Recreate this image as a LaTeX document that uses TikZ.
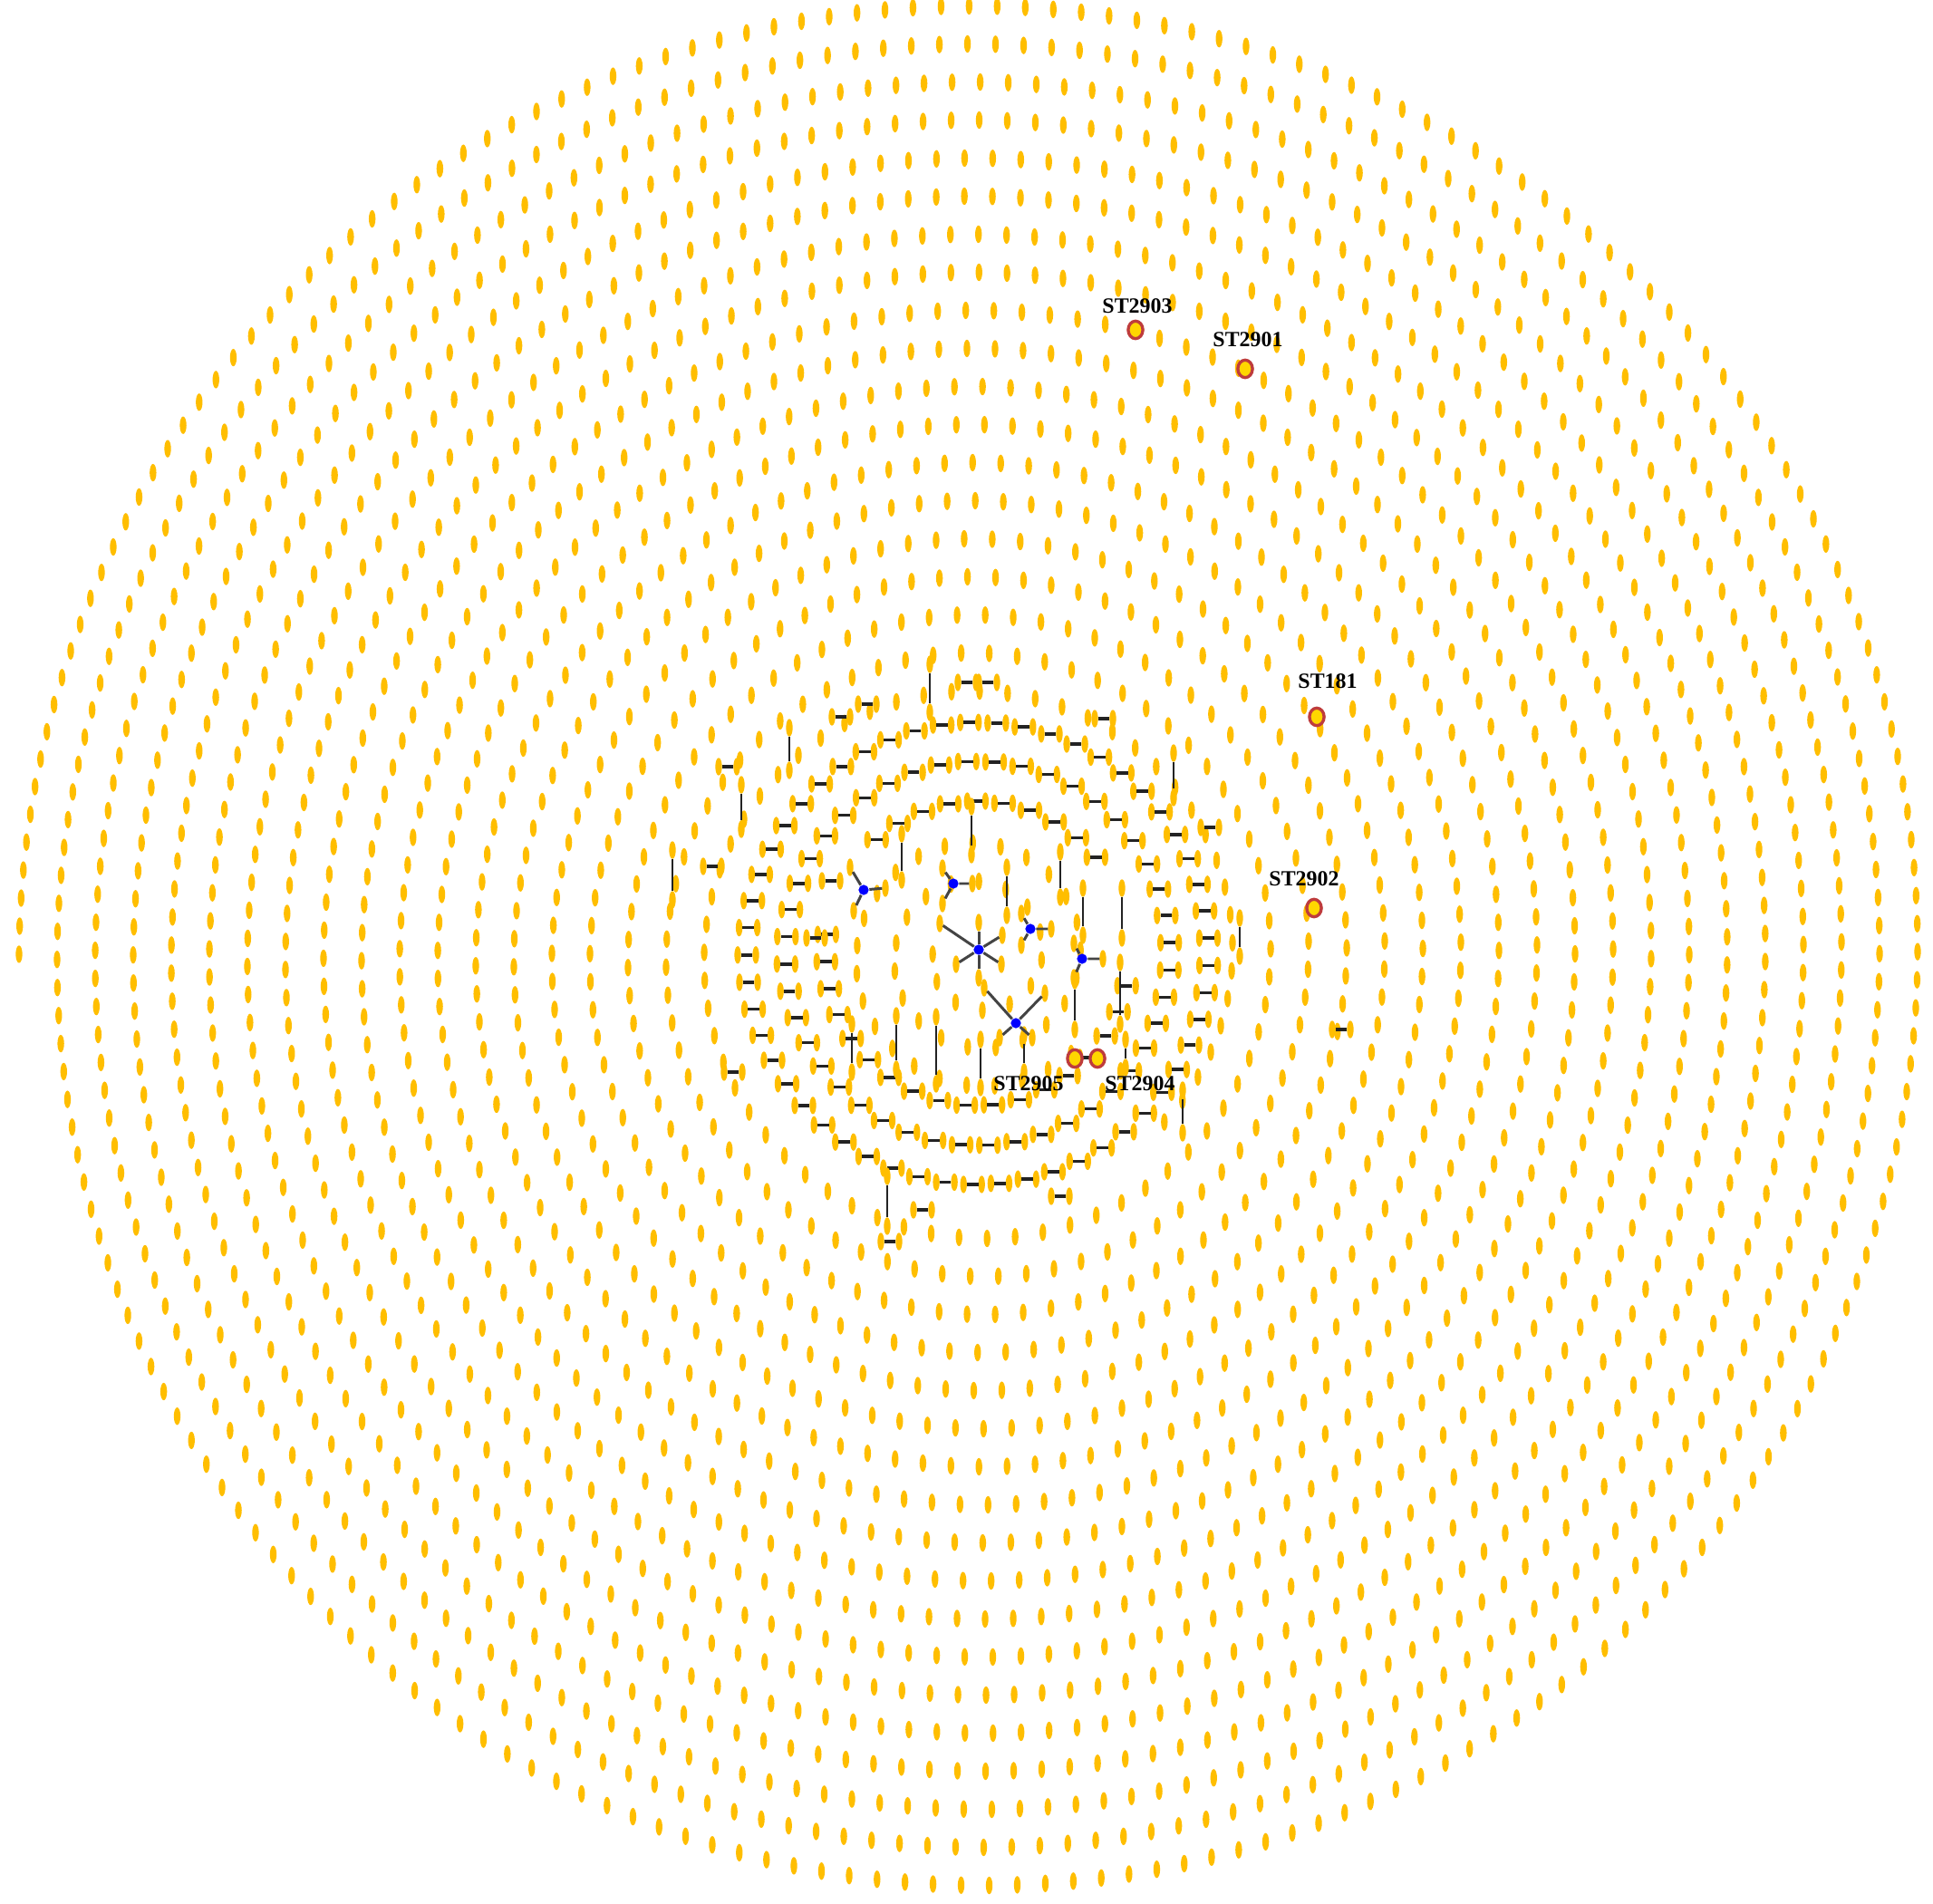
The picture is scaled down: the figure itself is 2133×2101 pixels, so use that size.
\documentclass[tikz,border=0pt]{standalone}
\usepackage{fontspec}
\setmainfont{Liberation Serif}
\usetikzlibrary{shapes.geometric}
\definecolor{dotor}{RGB}{255,190,0}
\definecolor{ringred}{RGB}{190,60,60}
\definecolor{ringfill}{RGB}{255,215,0}
\definecolor{bondc}{RGB}{35,35,35}
\tikzset{
 odot/.style={ellipse, fill=dotor, minimum width=2.1pt, minimum height=5.5pt, inner sep=0pt, outer sep=0pt},
 bond/.style={draw=bondc, line width=1pt},
 vbond/.style={draw=bondc, line width=0.65pt},
 spoke/.style={draw=bondc!85, line width=0.85pt},
 hub/.style={circle, fill=blue, minimum size=3.2pt, inner sep=0pt},
 stnode/.style={ellipse, draw=ringred, line width=0.95pt, fill=ringfill, minimum width=4.6pt, minimum height=5.5pt, inner sep=0pt},
 stlab/.style={font=\bfseries\fontsize{6.8}{8}\selectfont, inner sep=0pt},
}
\begin{document}
\begin{tikzpicture}[x=0.01cm,y=-0.01cm]
\useasboundingbox[fill=white] (0,0) rectangle (2133,2101);
% spiral of single nodes
\pgfmathsetmacro\spb{6.6845}
\pgfmathsetmacro\spk{3.04552}
\def\phend{158.28}
\foreach \i in {6,...,2701}{
  \pgfmathsetmacro\ph{\spk*sqrt(\i)}
  \pgfmathsetmacro\rr{\spb*\ph}
  \pgfmathsetmacro\an{mod(180+57.29578*(\phend-\ph),360)}
  \pgfmathsetmacro\px{1079+\rr*cos(\an)}
  \pgfmathsetmacro\py{1054+\rr*sin(\an)}
  \pgfmathtruncatemacro\keep{(\rr<150)||(\rr>276)}
  \ifnum\keep=1 \fill[dotor] (\px,\py) ellipse [x radius=1.05pt, y radius=2.75pt];\fi
}
% rings of horizontal pairs
\foreach \rid/\rad/\cnt/\off in {a/255/53/3, b/212/44/5}{
  \foreach \j in {1,...,\cnt}{
    \pgfmathsetmacro\an{\j*(360/\cnt)+\off}
    \pgfmathsetmacro\mx{1079+\rad*cos(\an)}
    \pgfmathsetmacro\my{1052+\rad*sin(\an)}
    \node[odot] (p\rid l\j) at ({\mx-10},\my) {};
    \node[odot] (p\rid r\j) at ({\mx+10},\my) {};
    \draw[bond] (p\rid l\j) -- (p\rid r\j);
  }
}
\foreach \j in {1,...,35}{
  \pgfmathsetmacro\an{\j*(360/35)+2}
  \pgfmathtruncatemacro\skip{((\an>192)&&(\an<228))||((\an>330)||(\an<12))}
  \ifnum\skip=0
    \pgfmathsetmacro\mx{1079+168*cos(\an)}
    \pgfmathsetmacro\my{1052+168*sin(\an)}
    \node[odot] (pcl\j) at ({\mx-10},\my) {};
    \node[odot] (pcr\j) at ({\mx+10},\my) {};
    \draw[bond] (pcl\j) -- (pcr\j);
  \fi
}
% stray horizontal pairs
\foreach \x/\y [count=\n] in {928/791, 957/777, 1067/753, 1090/753, 1218/793, 1335/913, 1480/1136, 1170/1320, 809/1183, 803/846, 786/956, 982/1370, 1018/1335, 917/972, 900/1035}{
  \node[odot] (hl\n) at ({\x-10},\y) {};
  \node[odot] (hr\n) at ({\x+10},\y) {};
  \draw[bond] (hl\n) -- (hr\n);
}
% vertical pairs
\foreach \x/\ya/\yb [count=\n] in {1026/733/786, 871/803/850, 818/866/915, 742/938/993, 1295/831/880, 979/1298/1353, 1305/1203/1250, 995/920/971, 1072/890/943, 1111/957/1010, 1170/940/990, 1195/980/1032, 1238/980/1035, 1368/1013/1055, 989/1121/1180, 1033/1122/1196, 1082/1147/1200, 1130/1142/1183, 1186/1082/1136, 1236/1062/1130, 1242/1147/1178, 940/1130/1183}{
  \node[odot] (va\n) at (\x,\ya) {};
  \node[odot] (vb\n) at (\x,\yb) {};
  \draw[vbond] (va\n) -- (vb\n);
}
% hubs
\node[hub] (hA) at (953,982) {};
\node[odot] (hA1) at (977,980) {};
\node[odot] (hA2) at (938,957) {};
\node[odot] (hA3) at (942,1005) {};
\draw[spoke] (hA) -- (hA1) (hA) -- (hA2) (hA) -- (hA3);
\node[hub] (hB) at (1052,975) {};
\node[odot] (hB1) at (1073,975) {};
\node[odot] (hB2) at (1040,958) {};
\node[odot] (hB3) at (1040,997) {};
\draw[spoke] (hB) -- (hB1) (hB) -- (hB2) (hB) -- (hB3);
\node[hub] (hD) at (1137,1025) {};
\node[odot] (hD1) at (1160,1025) {};
\node[odot] (hD2) at (1127,1008) {};
\node[odot] (hD3) at (1127,1043) {};
\draw[spoke] (hD) -- (hD1) (hD) -- (hD2) (hD) -- (hD3);
\node[hub] (hE) at (1194,1058) {};
\node[odot] (hE1) at (1217,1058) {};
\node[odot] (hE2) at (1185,1041) {};
\node[odot] (hE3) at (1185,1079) {};
\draw[spoke] (hE) -- (hE1) (hE) -- (hE2) (hE) -- (hE3);
\node[hub] (hC) at (1080,1048) {};
\node[odot] (hC1) at (1037,1019) {};
\node[odot] (hC2) at (1106,1032) {};
\node[odot] (hC3) at (1080,1018) {};
\node[odot] (hC4) at (1080,1079) {};
\node[odot] (hC5) at (1055,1064) {};
\node[odot] (hC6) at (1105,1064) {};
\foreach \k in {1,...,6}{\draw[spoke] (hC) -- (hC\k);}
\node[hub] (hF) at (1121,1129) {};
\node[odot] (hF1) at (1086,1090) {};
\node[odot] (hF2) at (1153,1096) {};
\node[odot] (hF3) at (1103,1145) {};
\node[odot] (hF4) at (1139,1145) {};
\foreach \k in {1,...,4}{\draw[spoke] (hF) -- (hF\k);}
% labelled nodes
\node[stnode] (s2903) at (1253,364) {};
\node[stlab] at (1255,338) {ST2903};
\node[stnode] (s2901) at (1374,407) {};
\node[stlab] at (1377,375) {ST2901};
\node[stnode] (s181) at (1453,791) {};
\node[stlab] at (1465,752) {ST181};
\node[stnode] (s2902) at (1450,1002) {};
\node[stlab] at (1439,970) {ST2902};
\node[stnode] (s2905) at (1186,1168) {};
\node[stnode] (s2904) at (1211,1168) {};
\draw[vbond] (s2905) -- (s2904);
\node[stlab] at (1135,1196) {ST2905};
\node[stlab] at (1258,1196) {ST2904};
\end{tikzpicture}
\end{document}
